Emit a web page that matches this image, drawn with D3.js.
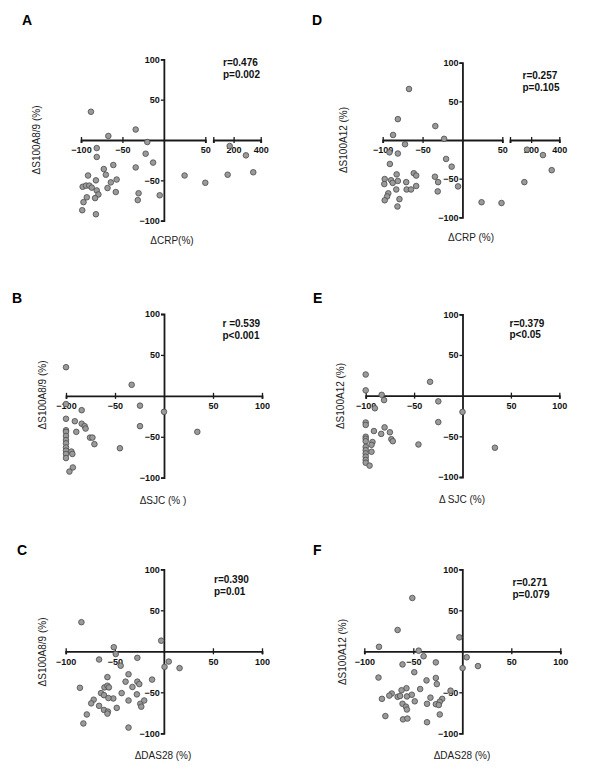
<!DOCTYPE html>
<html><head><meta charset="utf-8">
<script src="https://cdn.jsdelivr.net/npm/d3@7"></script>
<style>
body{margin:0;background:#fff;}
svg{display:block;font-family:"Liberation Sans",Arial,sans-serif;}
</style></head>
<body><svg id="c" width="600" height="780"></svg>
<script>
// ---- Data ----
const xTicks = [-100, -50, 50, 100];
const xTicksBreak = [-100, -50, 50];
const xTicksRight = [200, 400];
const yTicks = [-100, -50, 50, 100];

// Panel A: dCRP vs dS100A8/9
const crpA_x = [-88,-67,-34,-20,-81,-81,-22,-13,-34,-61,-72.5,-70,-91.5,-82,-57,-64,-98,-94,-90,-87,-81,-68,-58,-79,-93,-83,-97,-30.5,-31.5,-5,-98.5,-82,25,50,171,156,291,345];
const s89A_y  = [35,5,13,-2.5,-10,-21,-17,-28,-34,-31,-36,-43,-44,-50,-49,-52.5,-58,-56.5,-56.5,-59,-62.5,-59.5,-64.5,-67.5,-71,-72,-77,-66,-74.5,-68.5,-87,-92,-44,-53,-7.5,-43,-19,-40];

// Panel D: dCRP vs dS100A12
const crpD_x = [-67,-81,-34,-87,-23,-72,-91.5,-81,-20.5,-13.5,-91,-61,-58,-82.5,-97.5,-98,-89.5,-87.5,-81,-34.5,-30.5,-70.5,-58,-83,-70,-64.5,-5.5,-31,-93,-94.5,-97.5,-79,-81.5,24,49,171,284,346,152];
const s12D_y  = [66,27,18,6.5,1.5,-5.5,-16,-17.5,-24.5,-34.5,-31,-43,-46,-44.5,-50.5,-57,-52,-55.5,-53,-47.5,-54.5,-54.5,-59.5,-64,-64,-64,-60,-66.5,-69,-73,-78,-76.5,-86,-80.5,-81.5,-12.5,-19.5,-39,-54.5];

// Panel B: dSJC vs dS100A8/9
const sjcB_x = [-100,-100,-100,-100,-100,-100,-100,-100,-100,-100,-100,-100,-33,-24.5,-84,0,-91,-84,-81,-80,-24.5,-89.5,34,-75.5,-73,-71,-45,-94.5,-93.5,-93,-96.5];
const s89B_y = [35,-10,-28,-42,-44,-49,-54,-58,-63,-67,-71,-76,13.5,-12,-17.5,-19.5,-31,-34,-37,-40,-37,-44,-44,-51,-51,-59,-64,-68,-71,-87.5,-92.5];

// Panel E: dSJC vs dS100A12
const sjcE_x = [-100,-100,-100,-100,-100,-100,-100,-100,-100,-100,-100,-100,-100,-83.5,-81,-33.5,-25,-90.5,0,-25,-91.5,-80.5,-84,-75,-73.5,-72,-93,-94,-94,-96,-45.5,33.5];
const s12E_y = [26,6.5,-33,-36,-50.5,-53,-56,-63,-67,-71,-75,-79,-82.5,1,-5.5,17,-7,-15.5,-20,-32.5,-43.5,-39,-47,-45,-53.5,-56,-57,-60.5,-69,-86,-60,-64];

// Panel C: dDAS28 vs dS100A8/9
const dasC_x = [-84,-2.7,-51,-49,-66,-27,-44,5,0.7,16,-57.5,-36,-12,-39,-27,-25,-32,-85.5,-60.5,-57.5,-56,-64,-61,-43,-27.5,-51.5,-56.5,-71.5,-74,-36,-24,-23,-20,-66,-61,-57,-57.5,-48,-78.5,-82,-36];
const s89C_y = [35.5,13,5,-3.3,-10,-8,-17.5,-12.5,-19,-20.5,-31.5,-28,-34.5,-37,-37,-40,-43.5,-44.5,-44,-42,-44,-51,-53.5,-51,-52.5,-57.5,-57,-59,-63.5,-60,-64,-67.5,-60,-66.5,-71.5,-73.5,-76,-69,-77,-88,-93];

// Panel F: dDAS28 vs dS100A12
const dasF_x = [-51,-66,-3,-85,-44.5,-39.5,4.5,-61,-27,0.3,16,-49,-85.5,-27,-26,-36.5,-57,-62,-43,-12,-72,-74.5,-66,-63.5,-56.5,-51.5,-32.5,-82,-48.5,-20.5,-23,-27,-24,-36,-61,-57.5,-56.5,-23,-78.5,-60.5,-56,-36];
const s12F_y = [65,26,17,5.5,0.8,-6,-7.3,-16,-13.5,-20.5,-18,-25.5,-32,-32.5,-40,-35.5,-45,-47.5,-46,-48,-51.5,-54,-55.5,-54.5,-55,-53,-56.5,-58,-61,-58,-61.5,-64.5,-65.5,-64,-64,-67.5,-71,-77,-79,-83,-82,-86.5];

// ---- Layout (positions only) ----
const panels = [
  {letter:"A", lx:22, ly:25, xs:crpA_x, ys:s89A_y, xl:81, xr:205.3, brk:[213.3,260.7], yt:59.3, yb:220.7,
   xtitle:"\u0394CRP(%)", xtx:172, xty:244, ytitle:"\u0394S100A8/9 (%)", ytx:40, yty:140,
   r:"r=0.476", p:"p=0.002", sx:223, sy:66},
  {letter:"D", lx:312, ly:25, xs:crpD_x, ys:s12D_y, xl:382.7, xr:502.3, brk:[510,559.3], yt:62.7, yb:217.3,
   xtitle:"\u0394CRP (%)", xtx:471, xty:241, ytitle:"\u0394S100A12 (%)", ytx:347, yty:140,
   r:"r=0.257", p:"p=0.105", sx:522.5, sy:79},
  {letter:"B", lx:12, ly:303, xs:sjcB_x, ys:s89B_y, xl:66, xr:262, brk:null, yt:314, yb:477.7,
   xtitle:"\u0394SJC (% )", xtx:163, xty:504, ytitle:"\u0394S100A8/9 (%)", ytx:46, yty:395,
   r:"r =0.539", p:"p<0.001", sx:222.5, sy:327},
  {letter:"E", lx:313, ly:303, xs:sjcE_x, ys:s12E_y, xl:365.7, xr:559.3, brk:null, yt:314.3, yb:477,
   xtitle:"\u0394 SJC (%)", xtx:462, xty:503, ytitle:"\u0394S100A12 (%)", ytx:344, yty:396,
   r:"r=0.379", p:"p<0.05", sx:509.5, sy:326.5},
  {letter:"C", lx:17, ly:555, xs:dasC_x, ys:s89C_y, xl:65.7, xr:262, brk:null, yt:569.3, yb:733.3,
   xtitle:"\u0394DAS28 (%)", xtx:163, xty:759, ytitle:"\u0394S100A8/9 (%)", ytx:46, yty:652,
   r:"r=0.390", p:"p=0.01", sx:214, sy:583},
  {letter:"F", lx:313, ly:555, xs:dasF_x, ys:s12F_y, xl:364.3, xr:560.3, brk:null, yt:569.3, yb:733.3,
   xtitle:"\u0394DAS28 (%)", xtx:462, xty:759, ytitle:"\u0394S100A12 (%)", ytx:346, yty:652,
   r:"r=0.271", p:"p=0.079", sx:512.5, sy:586}
];

const svg = d3.select("#c");
const AX = "#1a1a1a";

panels.forEach(P => {
  const g = svg.append("g");
  const y = d3.scaleLinear().domain([-100,100]).range([P.yb, P.yt]);
  let xL, xR = null;
  if (P.brk) {
    xL = d3.scaleLinear().domain([-100,50]).range([P.xl, P.xr]);
    xR = d3.scaleLinear().domain([50,400]).range(P.brk);
  } else {
    xL = d3.scaleLinear().domain([-100,100]).range([P.xl, P.xr]);
  }
  const xpos = v => (xR && v > 50) ? xR(v) : xL(v);
  const y0 = y(0), x0 = xL(0);

  function styleAxis(sel){
    sel.select(".domain").attr("stroke", AX).attr("stroke-width", 1.8);
    sel.selectAll(".tick line").attr("stroke", AX).attr("stroke-width", 1.3);
    sel.selectAll(".tick text").attr("fill", "#111").attr("font-size", 9).attr("font-weight", "bold")
       .attr("font-family", '"Liberation Sans",Arial,sans-serif');
  }

  // x axis (left / main segment)
  const ax = d3.axisBottom(xL).tickValues(P.brk ? xTicksBreak : xTicks).tickSizeOuter(0).tickSize(3).tickPadding(4).tickFormat(d3.format("d"));
  const gx = g.append("g").attr("transform", `translate(0,${y0})`).call(ax);
  styleAxis(gx);
  gx.selectAll(".tick line").attr("y1", -3).attr("y2", 3);

  if (xR) {
    const ax2 = d3.axisBottom(xR).tickValues([50].concat(xTicksRight)).tickSizeOuter(0).tickSize(3).tickPadding(4)
      .tickFormat(d => d === 50 ? "" : d);
    const gx2 = g.append("g").attr("transform", `translate(0,${y0})`).call(ax2);
    styleAxis(gx2);
    gx2.selectAll(".tick line").attr("y1", -3).attr("y2", 3);
  }

  // y axis
  const ay = d3.axisLeft(y).tickValues(yTicks).tickSizeOuter(0).tickSize(3).tickPadding(1).tickFormat(d3.format("d"));
  const gy = g.append("g").attr("transform", `translate(${x0},0)`).call(ay);
  styleAxis(gy);

  // points
  g.append("g").selectAll("circle").data(P.xs.map((v,i)=>[v,P.ys[i]])).join("circle")
    .attr("cx", d => xpos(d[0])).attr("cy", d => y(d[1])).attr("r", 2.8)
    .attr("fill", "#9a9a9a").attr("stroke", "#4a4a4a").attr("stroke-width", 0.8);

  // stats
  g.append("text").attr("x", P.sx).attr("y", P.sy).text(P.r)
    .attr("font-size", 10).attr("font-weight", "bold").attr("fill", "#111");
  g.append("text").attr("x", P.sx).attr("y", P.sy + 11.5).text(P.p)
    .attr("font-size", 10).attr("font-weight", "bold").attr("fill", "#111");

  // titles
  g.append("text").attr("x", P.xtx).attr("y", P.xty).attr("text-anchor", "middle")
    .attr("font-size", 10).attr("fill", "#222").text(P.xtitle);
  g.append("text").attr("transform", `translate(${P.ytx},${P.yty}) rotate(-90)`).attr("text-anchor", "middle")
    .attr("font-size", 10).attr("fill", "#222").text(P.ytitle);

  // panel letter
  g.append("text").attr("x", P.lx).attr("y", P.ly).text(P.letter)
    .attr("font-size", 14).attr("font-weight", "bold").attr("fill", "#000");
});
</script></body></html>
